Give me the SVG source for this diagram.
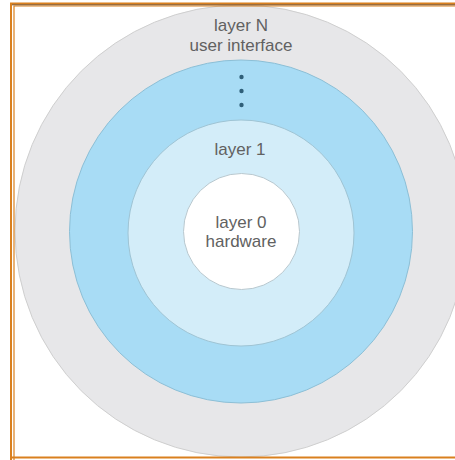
<svg xmlns="http://www.w3.org/2000/svg" width="455" height="460" viewBox="0 0 455 460">
<style>
.ring{stroke-width:1}
.t{font-family:"Liberation Sans",Arial,sans-serif;font-size:17px;fill:#616161;text-anchor:middle}
.dot{fill:#2f5f78}
</style>
<rect x="0" y="0" width="455" height="460" fill="#ffffff"/>
<g id="layerN">
<circle cx="241" cy="231" r="226" fill="#e7e7e9" stroke="#cfcfcf" class="ring"/>
<text class="t" x="241" y="31">layer N</text>
<text class="t" x="241" y="51">user interface</text>
</g>
<g id="layerMid">
<circle cx="241" cy="231.5" r="171.5" fill="#a8dcf5" stroke="#8cbfd6" class="ring"/>
<circle class="dot" cx="241.5" cy="77" r="2.2"/>
<circle class="dot" cx="241.5" cy="91" r="2.2"/>
<circle class="dot" cx="241.5" cy="105" r="2.2"/>
</g>
<g id="layer1">
<circle cx="241" cy="233" r="113" fill="#d3edf9" stroke="#9fc4d4" class="ring"/>
<text class="t" x="240" y="155">layer 1</text>
</g>
<g id="layer0">
<circle cx="241.5" cy="231.5" r="58" fill="#ffffff" stroke="#b8c8cf" class="ring"/>
<text class="t" x="241" y="228">layer 0</text>
<text class="t" x="241" y="247">hardware</text>
</g>
<g id="frame" fill="none">
<path d="M11 460 V3.5 H455" stroke="#d9801f" stroke-width="2"/>
<path d="M14 460 V6 H455" stroke="#d9801f" stroke-width="1.2"/>
<path d="M12 4.8 H455" stroke="#7a4a1c" stroke-width="1"/>
<path d="M11 457.5 H455" stroke="#d9801f" stroke-width="2"/>
</g>
</svg>
